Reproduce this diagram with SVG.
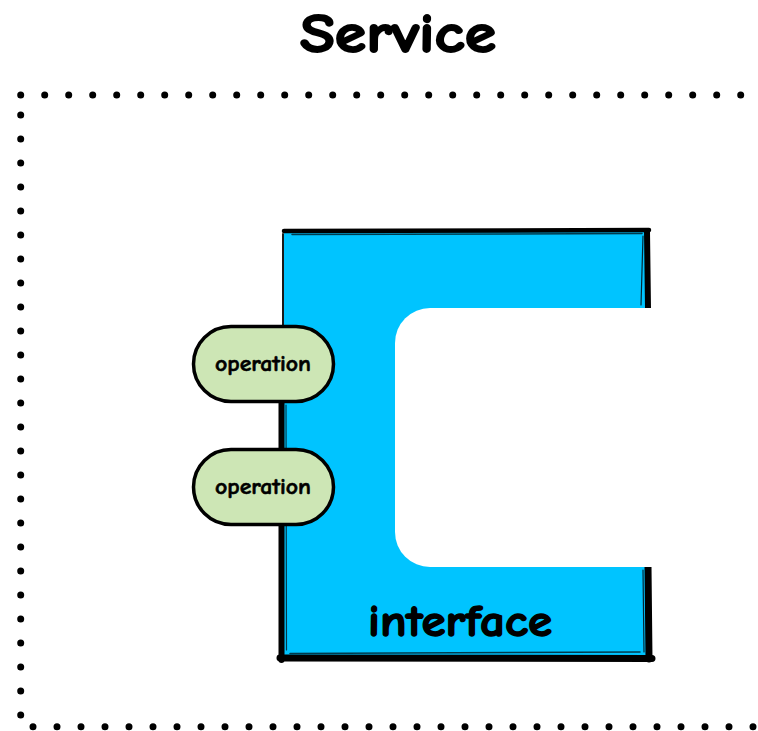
<svg xmlns="http://www.w3.org/2000/svg" width="758" height="731" viewBox="0 0 758 731">
  <style>
    .hand { font-family: "Comic Sans MS", "Comic Neue", "DejaVu Sans", "Liberation Sans", sans-serif; font-weight: bold; fill: #000; stroke: #000; stroke-linejoin: round; }
    .dots { fill: none; stroke: #000; stroke-width: 7; stroke-linecap: round; stroke-dasharray: 0 24; }
    .ink { fill: none; stroke: #000; stroke-linecap: round; stroke-linejoin: round; }
    .pill { fill: #CDE6B5; stroke: #000; stroke-width: 3.5; }
  </style>

  <rect width="758" height="731" fill="#fff"/>

  <!-- title -->
  <text class="hand" x="398" y="52" font-size="54" stroke-width="1.8" text-anchor="middle" textLength="196" lengthAdjust="spacingAndGlyphs">Service</text>

  <!-- dotted service boundary -->
  <g id="service-boundary">
    <path class="dots" d="M20.7 95 H758"/>
    <path class="dots" d="M20.7 115 V720"/>
    <path class="dots" d="M33 726.7 H758"/>
  </g>

  <!-- interface block -->
  <g id="interface">
    <rect x="284" y="232" width="362" height="424" fill="#00C4FF"/>
    <!-- rough outline -->
    <path class="ink" stroke-width="4.5" d="M284 231 L649 230"/>
    <path class="ink" stroke-width="1.5" d="M292 234.5 L642 233.5" opacity="0.7"/>
    <path class="ink" stroke-width="6" d="M647 231 L648 308"/>
    <path class="ink" stroke-width="1.2" d="M643 236 L641 305" opacity="0.8"/>
    <path class="ink" stroke-width="7" d="M648 566 L649 659"/>
    <path class="ink" stroke-width="1.2" d="M643 570 L644 652" opacity="0.8"/>
    <path class="ink" stroke-width="7" d="M280 658 L652 658.5"/>
    <path class="ink" stroke-width="1.5" d="M290 653.5 L640 652" opacity="0.7"/>
    <path class="ink" stroke-width="1.8" d="M283 234 L283 328"/>
    <path class="ink" stroke-width="6" d="M281.5 398 L281.5 660"/>
    <path class="ink" stroke-width="1.2" d="M286 405 L286.5 650" opacity="0.7"/>
    <!-- open side of the socket -->
    <rect x="395" y="308" width="400" height="259" rx="35" ry="35" fill="#fff"/>
    <text class="hand" x="460" y="636" font-size="45" stroke-width="1.4" text-anchor="middle" textLength="184" lengthAdjust="spacingAndGlyphs">interface</text>
  </g>

  <!-- operations -->
  <g id="operation-1">
    <rect class="pill" x="193.5" y="326.5" width="140" height="75" rx="37.5" ry="37.5"/>
    <text class="hand" x="263" y="371" font-size="23" stroke-width="0.6" text-anchor="middle" textLength="96" lengthAdjust="spacingAndGlyphs">operation</text>
  </g>
  <g id="operation-2">
    <rect class="pill" x="193.5" y="449.5" width="140" height="75" rx="37.5" ry="37.5"/>
    <text class="hand" x="263" y="494" font-size="23" stroke-width="0.6" text-anchor="middle" textLength="96" lengthAdjust="spacingAndGlyphs">operation</text>
  </g>

  <g id="connectors"/>
</svg>
